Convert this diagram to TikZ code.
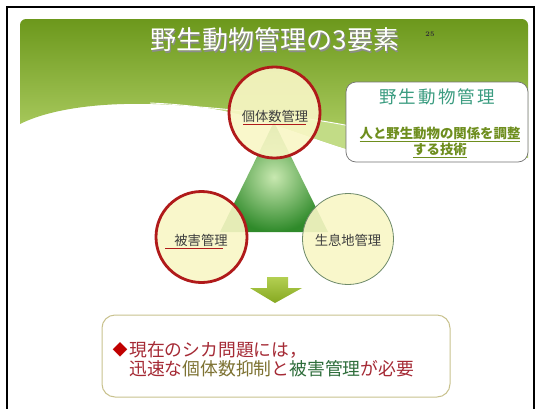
\documentclass[tikz,border=0pt]{standalone}
\usepackage{fontspec}
\newfontfamily\jp{Noto Sans CJK JP}
\usetikzlibrary{shapes.geometric}
\definecolor{hdrtop}{HTML}{6C981C}
\definecolor{hdrbot}{HTML}{B8D66E}
\definecolor{band}{HTML}{C2DC86}
\definecolor{circfill}{HTML}{F9F7C6}
\definecolor{circred}{HTML}{B01A1A}
\definecolor{circgreen}{HTML}{6E8A6A}
\definecolor{trilight}{HTML}{C8E8B0}
\definecolor{tridark}{HTML}{2F8A2A}
\definecolor{arrtop}{HTML}{B3CF52}
\definecolor{arrbot}{HTML}{86A821}
\definecolor{boxline}{HTML}{C9C28E}
\definecolor{teal}{HTML}{3A9C80}
\definecolor{olivet}{HTML}{6E8E1E}
\definecolor{dred}{HTML}{A52A35}
\definecolor{olivebr}{HTML}{7D7232}
\definecolor{dgreen}{HTML}{2F6E3C}
\definecolor{diam}{HTML}{C00000}
\tikzset{
  circ/.style={circle, minimum size=91pt, inner sep=0pt, fill=circfill, fill opacity=0.9, text opacity=1},
  redcirc/.style={circ, draw=circred, line width=2.8pt},
  greencirc/.style={circ, draw=circgreen, line width=0.8pt},
  circtext/.style={font=\jp\fontsize{13.3}{15}\selectfont, text=black!75},
  uline/.style={circred, line width=0.8pt}
}
\begin{document}
\begin{tikzpicture}[x=1pt,y=-1pt]
\useasboundingbox (0,0) rectangle (541,408);
\fill[white] (0,0) rectangle (541,408);
% header
\shade[top color=hdrtop, bottom color=hdrbot]
  [rounded corners=6pt] (20,124) -- (20,19) -- (528,19) [sharp corners] -- (528,158)
  -- (350,150) .. controls (300,135) and (250,112) .. (200,107)
  .. controls (130,100) and (60,104) .. (20,124) -- cycle;
\fill[band] (200,107) .. controls (260,112) and (310,118) .. (350,126) -- (350,150)
  .. controls (300,135) and (250,112) .. (200,107) -- cycle;
\draw[white, line width=0.9pt] (150,103) .. controls (175,104) and (190,106) .. (200,107)
  .. controls (260,112) and (310,118) .. (350,126);
% title
\node[text=black!45, font=\jp\fontsize{26}{30}\selectfont] (titles) at (276.2,41.2) {野生動物管理の3要素};
\node[text=white, font=\jp\fontsize{26}{30}\selectfont] (title) at (275,40) {野生動物管理の3要素};
\node[text=black!80, font=\fontsize{7}{8}\selectfont\bfseries] (pnum) at (430,34) {25};
% triangle
\shade[inner color=trilight, outer color=tridark] (274,122) -- (328,232) -- (220,232) -- cycle;
% circles
\node[redcirc] (pop) at (274.5,112.5) {};
\node[redcirc] (dmg) at (201.5,237) {};
\node[greencirc] (hab) at (348,239) {};
\node[circtext] (popt) at (275,116) {個体数管理};
\draw[uline] (243,124) -- (306,124);
\node[circtext] (dmgt) at (201,240) {被害管理};
\draw[uline] (165,248) -- (223,248);
\node[circtext] (habt) at (348,240) {生息地管理};
% right box
\node[draw=black!55, line width=0.7pt, fill=white, rounded corners=10pt, minimum width=182pt, minimum height=80pt] (defbox) at (437,122) {};
\node[text=teal, font=\jp\fontsize{17.5}{19}\selectfont\addfontfeature{LetterSpace=12}] (deft) at (437,97) {野生動物管理};
\node[text=olivet, font=\jp\bfseries\fontsize{13.4}{16}\selectfont, align=center] (defs) at (440,142) {\underline{人と野生動物の関係を調整}\\\underline{する技術}};
% arrow
\shade[top color=arrtop, bottom color=arrbot] (267,277) -- (288,277) -- (288,288) -- (302,288) -- (275,303) -- (250,288) -- (267,288) -- cycle;
% bottom box
\node[draw=boxline, line width=1pt, fill=white, rounded corners=13pt, minimum width=348pt, minimum height=82pt] (concl) at (276,356) {};
\node[text=diam, font=\jp\fontsize{15}{16}\selectfont] (bullet) at (120,350) {◆};
\node[anchor=west, text=dred, font=\jp\fontsize{17.8}{19}\selectfont, inner sep=0pt] (l1) at (129,350) {現在のシカ問題には，};
\node[anchor=west, font=\jp\fontsize{17.8}{19}\selectfont, inner sep=0pt] (l2) at (129,369)
  {\textcolor{dred}{迅速な}\textcolor{olivebr}{個体数抑制}\textcolor{dred}{と}\textcolor{dgreen}{被害管理}\textcolor{dred}{が必要}};
% outer frame
\draw[black, line width=2pt] (7,415) -- (7,7) -- (534,7) -- (534,415);
\end{tikzpicture}
\end{document}
